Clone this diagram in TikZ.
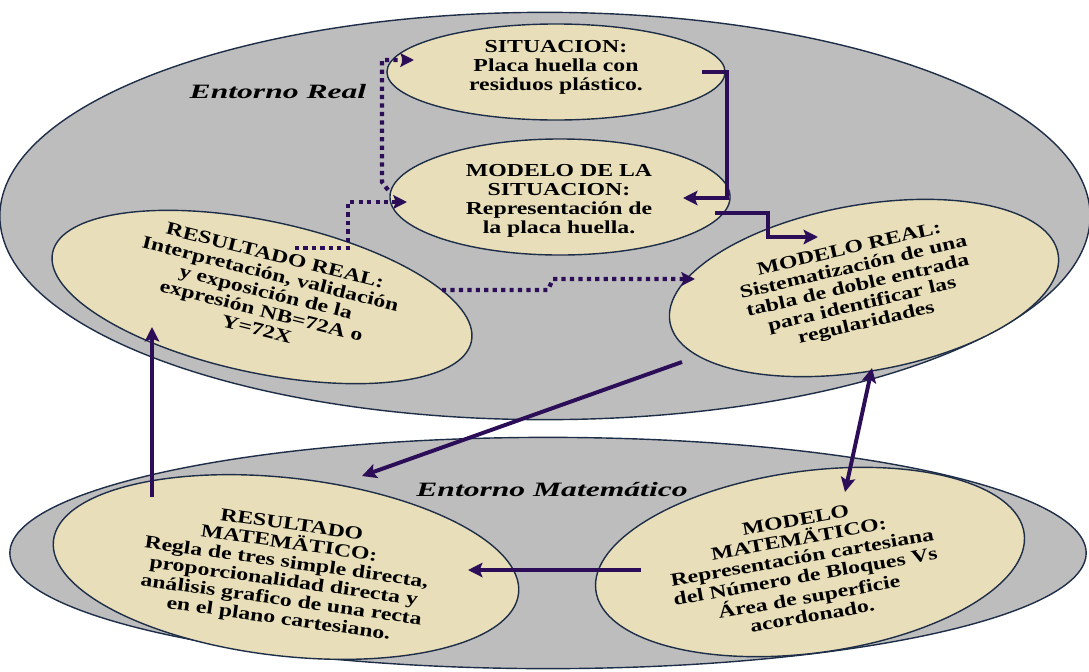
\documentclass[tikz,border=0pt]{standalone}
\usepackage{fontspec}
\setmainfont{Liberation Serif}
\newfontfamily\ancha{Liberation Serif}[FakeStretch=1.3]
\newfontfamily\anchat{Liberation Serif}[FakeStretch=1.55]
\usetikzlibrary{arrows.meta,shapes.geometric,calc}
\definecolor{cgris}{HTML}{BDBDBD}
\definecolor{ccrema}{HTML}{E8DFBA}
\definecolor{cborde}{HTML}{1E2E48}
\definecolor{cflecha}{HTML}{2C0E58}
\tikzset{
  entorno/.style={ellipse,draw=cborde,fill=cgris,line width=1pt,inner sep=0pt},
  elipse/.style={ellipse,draw=cborde,fill=ccrema,line width=1pt,inner sep=0pt},
  texto/.style={align=center,inner sep=0pt,
                font=\ancha\fontsize{13}{13.5}\selectfont\bfseries},
  tit/.style={font=\anchat\fontsize{14.5}{15}\selectfont\bfseries\itshape,inner sep=0pt},
  flecha/.style={-{Stealth[length=3.6mm,width=3.6mm,inset=0.7mm]},draw=cflecha,line width=2.8pt},
  doble/.style={flecha,{Stealth[length=3.6mm,width=3.6mm,inset=0.7mm]}-{Stealth[length=3.6mm,width=3.6mm,inset=0.7mm]}},
  punteada/.style={-{Stealth[length=3.4mm,width=3.4mm,inset=0.6mm]},draw=cflecha,
                   line width=3pt,dash pattern=on 3pt off 3pt},
}
\begin{document}
\begin{tikzpicture}[x=0.025cm,y=-0.025cm]
\useasboundingbox (0,0) rectangle (1089,671);

% entornos
\node[entorno,minimum width=27.25cm,minimum height=10.18cm] (ereal) at (545,216) {};
\node[entorno,minimum width=26.9cm,minimum height=5.78cm]   (emat)  at (548,553) {};
\node[tit] (tereal) at (278,92)  {Entorno Real};
\node[tit] (temat)  at (552,490) {Entorno Matemático};

% elipses
\node[elipse,minimum width=8.45cm,minimum height=2.4cm]             (sit)   at (556,72)  {};
\node[elipse,minimum width=8.5cm,minimum height=2.9cm]              (msit)  at (560,197) {};
\node[elipse,minimum width=10.7cm,minimum height=3.8cm,rotate=-12]  (rreal) at (262,297) {};
\node[elipse,minimum width=9.85cm,minimum height=4.15cm,rotate=10]  (mreal) at (864,288) {};
\node[elipse,minimum width=11.7cm,minimum height=4.45cm,rotate=-6.5] (rmat) at (286,567) {};
\node[elipse,minimum width=10.8cm,minimum height=4.55cm,rotate=7.6] (mmat)  at (810,562) {};

% textos
\node[texto] (tsit)  at (556,67)  {SITUACION:\\Placa huella con\\residuos plástico.};
\node[texto] (tmsit) at (559,201) {MODELO DE LA\\SITUACION:\\Representación de\\la placa huella.};
\node[texto,rotate=-14] (trreal) at (266,292) {RESULTADO REAL:\\Interpretación, validación\\y exposición de la\\expresión NB=72A o\\Y=72X};
\node[texto,rotate=13]  (tmreal) at (858,287) {MODELO REAL:\\Sistematización de una\\tabla de doble entrada\\para identificar las\\regularidades};
\node[texto,rotate=-8]  (trmat)  at (285,573) {RESULTADO\\MATEMÄTICO:\\Regla de tres simple directa,\\proporcionalidad directa y\\análisis grafico de una recta\\en el plano cartesiano.};
\node[texto,rotate=10]  (tmmat)  at (804,568) {MODELO\\MATEMÄTICO:\\Representación cartesiana\\del Número de Bloques Vs\\Área de superficie\\acordonado.};

% extremos de las flechas
\coordinate (a1) at (702,72);   \coordinate (a2) at (683,198);
\coordinate (b1) at (715,213);  \coordinate (b2) at (818,237);
\coordinate (c1) at (295,248);  \coordinate (c2) at (407,202);
\coordinate (d1) at (388,190);  \coordinate (d2) at (414,60);
\coordinate (e1) at (442,290);  \coordinate (e2) at (695,279);
\coordinate (f1) at (682,362);  \coordinate (f2) at (362,476);
\coordinate (g1) at (152,497);  \coordinate (g2) at (152,327);
\coordinate (h1) at (872,368);  \coordinate (h2) at (845,492);
\coordinate (i1) at (641,570);  \coordinate (i2) at (468,570);

\draw[flecha] (a1) -- ++(25,0) |- (a2);
\draw[flecha] (b1) -- ++(53,0) |- (b2);
\draw[punteada] (c1) -- ++(53,0) |- (c2);
\draw[punteada] (d1) -- ++(-6,-8) |- (d2);
\draw[punteada] (e1) -- ++(106,0) -- ++(5,-11) -- (e2);
\draw[flecha] (f1) -- (f2);
\draw[flecha] (g1) -- (g2);
\draw[doble] (h1) -- (h2);
\draw[flecha] (i1) -- (i2);

\end{tikzpicture}
\end{document}
